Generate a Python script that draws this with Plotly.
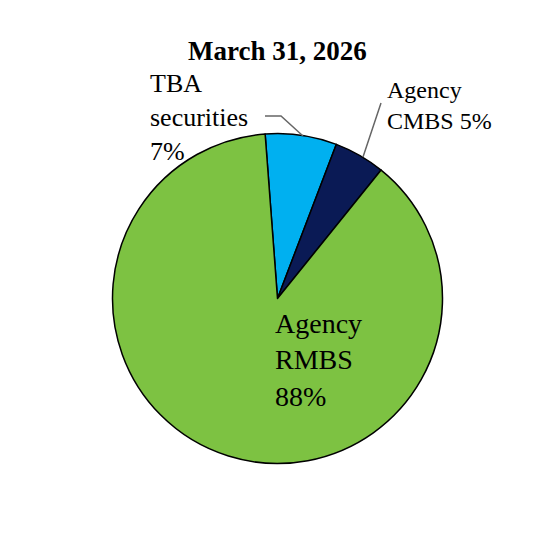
import plotly.graph_objects as go

W, H = 556, 536
categories = ["TBA securities", "Agency CMBS", "Agency RMBS"]
values = [7, 5, 88]
label_texts = ["TBA<br>securities<br>7%", "Agency<br>CMBS 5%", "Agency<br>RMBS<br>88%"]
colors = ["#00B0F0", "#0A1A55", "#7DC242"]
title_text = "<b>March 31, 2026</b>"

FONT = "Times New Roman, Liberation Serif, serif"

# page body has an 8px default margin; compensate so pixel targets match
OFF = 8
cx, cy, r = 277.5, 298.5, 165

def px(x):
    return (x - OFF) / W

def py(y):
    return 1 - (y - OFF) / H

fig = go.Figure(go.Pie(
    labels=categories,
    values=values,
    sort=False,
    direction="clockwise",
    rotation=-4.3,
    marker=dict(colors=colors, line=dict(color="black", width=1.5)),
    textinfo="none",
    hoverinfo="label+percent",
    showlegend=False,
    domain=dict(x=[px(cx - r), px(cx + r)], y=[py(cy + r), py(cy - r)]),
))

annotations = [
    dict(text=title_text, x=px(277), y=py(51), font=dict(size=27, family=FONT, color="black"),
         xanchor="center", yanchor="middle"),
    dict(text=label_texts[0], x=px(148), y=py(118), font=dict(size=26, family=FONT, color="black"),
         xanchor="left", yanchor="middle", align="left"),
    dict(text=label_texts[1], x=px(385), y=py(105), font=dict(size=24, family=FONT, color="black"),
         xanchor="left", yanchor="middle", align="left"),
    dict(text=label_texts[2], x=px(273), y=py(360), font=dict(size=28, family=FONT, color="black"),
         xanchor="left", yanchor="middle", align="left"),
]
for a in annotations:
    a.update(xref="paper", yref="paper", showarrow=False)

shapes = [
    dict(type="path", path=f"M {px(265)} {py(116)} L {px(281)} {py(116)} L {px(303)} {py(136)}",
         xref="paper", yref="paper", line=dict(color="#666666", width=1.5)),
    dict(type="line", x0=px(381), y0=py(103), x1=px(363), y1=py(157),
         xref="paper", yref="paper", line=dict(color="#666666", width=1.5)),
]

fig.update_layout(
    width=W, height=H,
    margin=dict(l=0, r=0, t=0, b=0),
    paper_bgcolor="white", plot_bgcolor="white",
    annotations=annotations,
    shapes=shapes,
)

fig.write_html("out.html")
